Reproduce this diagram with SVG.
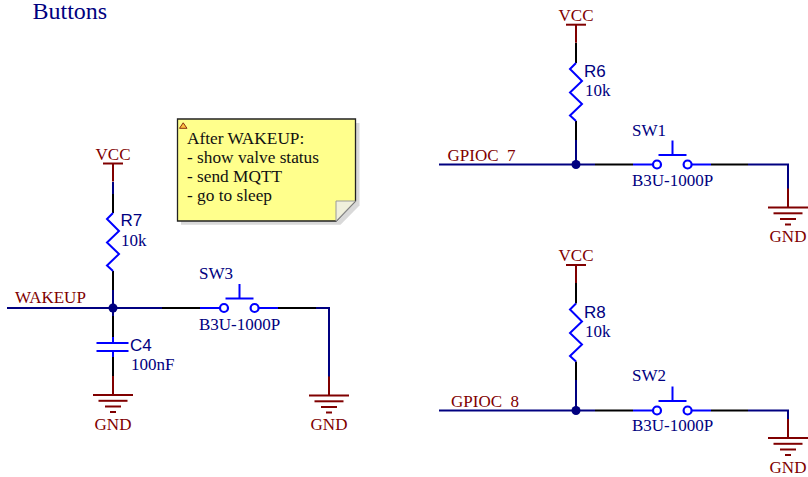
<svg xmlns="http://www.w3.org/2000/svg" width="808" height="477" viewBox="0 0 808 477">
<style>
text{font-family:"Liberation Serif","Times New Roman",serif;font-size:17.300px}
.sans{font-family:"Liberation Sans",Arial,sans-serif;font-size:17px}
.n{fill:#000080}.r{fill:#800000}.k{fill:#111}
.m{text-anchor:middle}
.pn{font-size:17px}
line,polyline,path.l{fill:none;stroke-width:2}
.w{stroke:#000080}.b{stroke:#000}.p{stroke:#800000}.c{stroke:#0000ff}
circle.o{fill:#fff;stroke:#0000ff;stroke-width:2.200}
.dot{fill:#000080}
</style>
<defs>
<g id="vcc"><line class="p" x1="-10" y1="0" x2="10" y2="0"/><line class="p" x1="0" y1="0" x2="0" y2="18"/></g>
<g id="gnd"><line class="p" x1="0" y1="-19" x2="0" y2="0"/><line class="p" x1="-20" y1="0" x2="20" y2="0"/><line class="p" x1="-14.500" y1="5.800" x2="14.500" y2="5.800"/><line class="p" x1="-8" y1="11.500" x2="8" y2="11.500"/><line class="p" x1="-3" y1="17" x2="3" y2="17"/></g>
<polyline id="zig" class="c" points="0,0 -6,6 6,18 -6,29.500 6,41 -6,52.500 0,58"/>
<g id="sw"><line class="c" x1="0" y1="0" x2="20" y2="0"/><line class="c" x1="58" y1="0" x2="78" y2="0"/><circle class="o" cx="24" cy="0" r="4"/><circle class="o" cx="54.600" cy="0" r="4"/><line class="c" x1="25.500" y1="-9.500" x2="53.500" y2="-9.500"/><line class="c" x1="39.500" y1="-9.500" x2="39.500" y2="-24"/></g>
</defs>

<text id="title" x="32.500" y="18.500" class="n" style="font-size:24px">Buttons</text>

<g id="connectors">
<polyline class="w" points="113,182 113,194"/><line class="b" x1="113" y1="194" x2="113" y2="213"/>
<line class="b" x1="113" y1="271" x2="113" y2="290"/><line class="w" x1="113" y1="290" x2="113" y2="308"/>
<line class="w" x1="7" y1="308" x2="162" y2="308"/><line class="b" x1="162" y1="308" x2="200" y2="308"/>
<line class="b" x1="278" y1="308" x2="316" y2="308"/><polyline class="w" points="316,308 329,308 329,377"/>
<line class="w" x1="113" y1="308" x2="113" y2="316"/><line class="b" x1="113" y1="316" x2="113" y2="337"/>
<line class="b" x1="113" y1="357" x2="113" y2="376"/>

<line class="b" x1="576" y1="43" x2="576" y2="63"/><line class="b" x1="576" y1="121" x2="576" y2="140"/>
<line class="w" x1="576" y1="140" x2="576" y2="164.500"/>
<line class="w" x1="439" y1="164.500" x2="595" y2="164.500"/><line class="b" x1="595" y1="164.500" x2="633" y2="164.500"/>
<line class="b" x1="711" y1="164.500" x2="748" y2="164.500"/><polyline class="w" points="748,164.500 788,164.500 788,189"/>

<line class="b" x1="576" y1="283" x2="576" y2="303.500"/><line class="b" x1="576" y1="361.500" x2="576" y2="380"/>
<line class="w" x1="576" y1="380" x2="576" y2="410.500"/>
<line class="w" x1="439" y1="410.500" x2="595" y2="410.500"/><line class="b" x1="595" y1="410.500" x2="633" y2="410.500"/>
<line class="b" x1="711" y1="410.500" x2="748" y2="410.500"/><polyline class="w" points="748,410.500 788,410.500 788,419"/>
</g>

<g id="note">
<polygon points="181,123 359.500,123 359.500,205.500 340.500,224.700 181,224.700" fill="#d9d9d9"/>
<polygon points="177.500,119 355.500,119 355.500,201 336,221 177.500,221" fill="#ffff8c" stroke="#222" stroke-width="1.300"/>
<polygon points="336,221 336,201 355.500,201" fill="#f0f0dc" stroke="#999" stroke-width="1"/>
<polygon points="183.200,122.800 187,128.300 179.500,128.300" fill="#ffc040" stroke="#8a3010" stroke-width="1"/>
<text class="k" x="187" y="143.500">After WAKEUP:</text>
<text class="k" x="187" y="162.800">- show valve status</text>
<text class="k" x="187" y="182">- send MQTT</text>
<text class="k" x="187" y="201">- go to sleep</text>
</g>

<g id="net-wakeup"><text class="r pn" x="15" y="303">WAKEUP</text></g>
<g id="net-gpioc7"><text class="r pn" x="447.500" y="160.700" style="word-spacing:4.200px">GPIOC 7</text></g>
<g id="net-gpioc8"><text class="r pn" x="451" y="406.700" style="word-spacing:4.200px">GPIOC 8</text></g>
<g id="junctions">
<circle class="dot" cx="113" cy="308" r="4.500"/><circle class="dot" cx="576" cy="164.500" r="4.500"/><circle class="dot" cx="576" cy="410.500" r="4.500"/>
</g>

<g id="vcc1"><use href="#vcc" x="113" y="163.500"/><text class="r m pn" x="113" y="160">VCC</text></g>
<g id="vcc2"><use href="#vcc" x="576" y="24.700"/><text class="r m pn" x="576" y="21">VCC</text></g>
<g id="vcc3"><use href="#vcc" x="576" y="265"/><text class="r m pn" x="576" y="261">VCC</text></g>

<g id="gnd1"><use href="#gnd" x="113" y="395"/><text class="r m pn" x="113" y="430">GND</text></g>
<g id="gnd2"><use href="#gnd" x="329" y="395.500"/><text class="r m pn" x="329" y="430">GND</text></g>
<g id="gnd3"><use href="#gnd" x="788" y="207.500"/><text class="r m pn" x="788" y="241.500">GND</text></g>
<g id="gnd4"><use href="#gnd" x="788" y="438"/><text class="r m pn" x="788" y="473">GND</text></g>

<g id="R7"><use href="#zig" x="113" y="213"/><text class="n sans" x="120.500" y="226">R7</text><text class="n pn" x="121" y="245.500">10k</text></g>
<g id="R6"><use href="#zig" x="576" y="63"/><text class="n sans" x="584" y="77">R6</text><text class="n pn" x="585" y="96">10k</text></g>
<g id="R8"><use href="#zig" x="576" y="303.500"/><text class="n sans" x="584" y="318">R8</text><text class="n pn" x="585" y="337">10k</text></g>

<g id="C4">
<line class="c" x1="113" y1="337" x2="113" y2="343"/><line class="c" x1="113" y1="351" x2="113" y2="357"/>
<line class="c" x1="96.500" y1="343" x2="128.500" y2="343"/><line class="c" x1="96.500" y1="351" x2="128.500" y2="351"/>
<text class="n sans" x="130" y="351">C4</text><text class="n pn" x="131" y="369.500">100nF</text>
</g>

<g id="SW3"><use href="#sw" x="200" y="308"/><text class="n pn" x="199" y="279">SW3</text><text class="n pn" x="199" y="329.500">B3U-1000P</text></g>
<g id="SW1"><use href="#sw" x="633" y="164.500"/><text class="n pn" x="632" y="136">SW1</text><text class="n pn" x="632" y="186">B3U-1000P</text></g>
<g id="SW2"><use href="#sw" x="633" y="410.500"/><text class="n pn" x="632" y="381">SW2</text><text class="n pn" x="632" y="431">B3U-1000P</text></g>
</svg>
